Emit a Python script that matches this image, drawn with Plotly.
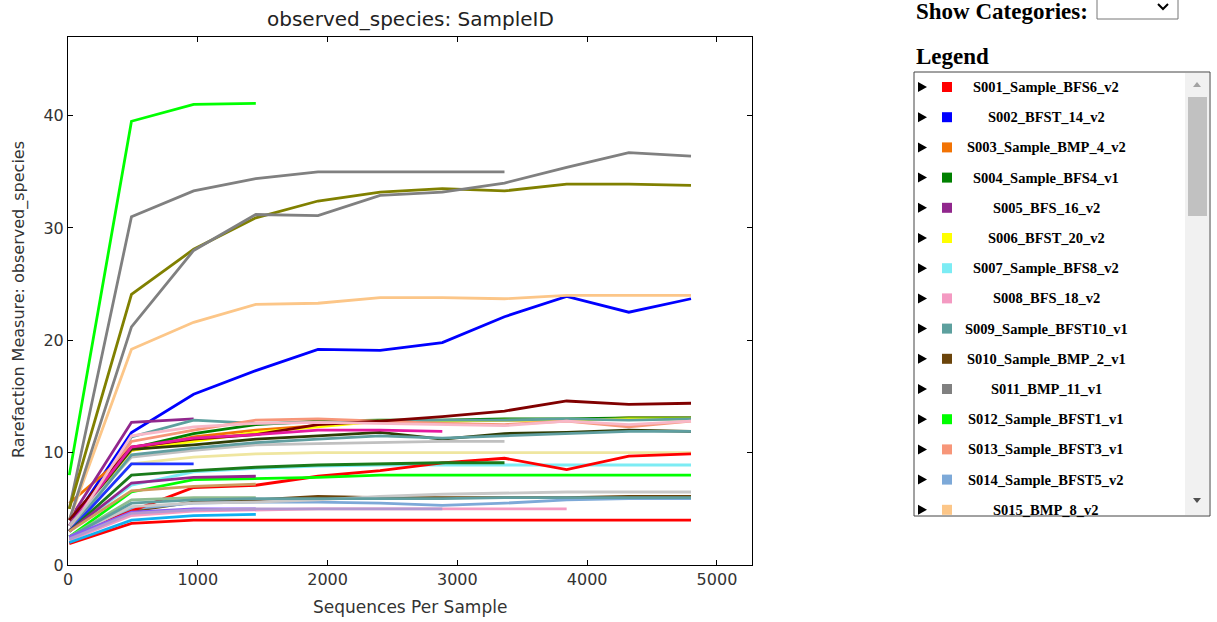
import plotly.graph_objects as go

# ---------------- data ----------------
depths = [10, 489, 968, 1447, 1926, 2405, 2884, 3363, 3842, 4321, 4800]

sample_ids = [
    "S001_Sample_BFS6_v2", "S002_BFST_14_v2", "S003_Sample_BMP_4_v2",
    "S004_Sample_BFS4_v1", "S005_BFS_16_v2", "S006_BFST_20_v2",
    "S007_Sample_BFS8_v2", "S008_BFS_18_v2", "S009_Sample_BFST10_v1",
    "S010_Sample_BMP_2_v1", "S011_BMP_11_v1", "S012_Sample_BFST1_v1",
    "S013_Sample_BFST3_v1", "S014_Sample_BFST5_v2", "S015_BMP_8_v2",
    "S016", "S017", "S018", "S019", "S020", "S021", "S022", "S023", "S024",
    "S025", "S026", "S027", "S028", "S029", "S030", "S031", "S032", "S033",
    "S034", "S035", "S036",
]

sample_colors = [
    "#ff0000", "#0000ff", "#f27304", "#008000", "#91278d", "#ffff00",
    "#7cecf4", "#f49ac2", "#5da09e", "#6b440b", "#808080", "#00ff00",
    "#f79679", "#7da9d8", "#fcc688",
    "#808000", "#808080", "#800000", "#2f3d05", "#e619a0", "#f8b8c8",
    "#c0c0c0", "#5f9ea0", "#efe6a0", "#1e32ff", "#ff0000", "#1a7a1a",
    "#00ff00", "#91278d", "#d09a60", "#8fbc8f", "#c8c8c8", "#5f9ea0",
    "#8a5cf5", "#b399d0", "#10b0f0",
]

s001 = [1.9, 3.7, 4.0, 4.0, 4.0, 4.0, 4.0, 4.0, 4.0, 4.0, 4.0]
s002 = [3.5, 11.8, 15.2, 17.3, 19.2, 19.1, 19.8, 22.1, 23.9, 22.5, 23.7]
s003 = [5.5, 10.2, 11.4, 12.0, 12.4, 12.8, 12.8, 12.9, 12.9, 13.1, 13.1]
s004 = [3.0, 10.4, 11.7, 12.5, 12.8, 12.9, 12.9, 13.0, 13.0, 13.1, 13.1]
s005 = [4.0, 12.7, 13.0]
s006 = [3.5, 10.2, 11.0, 11.8, 12.3, 12.8, 12.8, 12.9, 12.9, 13.0, 13.0]
s007 = [3.0, 7.1, 8.3, 8.6, 8.8, 8.9, 8.9, 8.9, 8.9, 8.9, 8.9]
s008 = [2.2, 4.4, 4.8, 4.9, 5.0, 5.0, 5.0, 5.0, 5.0]
s009 = [3.0, 11.4, 12.9, 12.6, 12.7, 12.8, 12.9, 12.9, 13.0, 12.9, 13.0]
s010 = [2.5, 4.8, 5.6, 5.8, 6.1, 6.0, 6.0, 6.0, 6.0, 6.1, 6.1]
s011 = [5.0, 31.0, 33.3, 34.4, 35.0, 35.0, 35.0, 35.0]
s012 = [8.0, 39.5, 41.0, 41.1]
s013 = [3.0, 11.0, 12.0, 12.9, 13.0, 12.8, 12.6, 12.5, 12.8, 12.3, 12.8]
s014 = [2.5, 5.0, 5.5, 5.6, 5.6, 5.5, 5.3, 5.5, 5.8, 5.9, 5.9]
s015 = [4.0, 19.2, 21.6, 23.2, 23.3, 23.8, 23.8, 23.7, 24.0, 24.0, 24.0]
s016 = [5.0, 24.1, 28.1, 30.9, 32.4, 33.2, 33.5, 33.3, 33.9, 33.9, 33.8]
s017 = [4.0, 21.2, 28.0, 31.2, 31.1, 32.9, 33.2, 34.0, 35.4, 36.7, 36.4]
s018 = [4.0, 10.5, 11.2, 11.6, 12.5, 12.8, 13.2, 13.7, 14.6, 14.3, 14.4]
s019 = [3.5, 10.3, 10.7, 11.2, 11.5, 11.8, 11.2, 11.7, 11.8, 12.0, 11.9]
s020 = [3.5, 10.5, 11.3, 11.6, 12.0, 12.0, 11.9]
s021 = [3.0, 11.5, 12.3, 12.6, 12.7, 12.6, 12.5, 12.4, 12.8, 12.5, 12.8]
s022 = [3.5, 9.6, 10.2, 10.7, 10.8, 10.9, 11.0, 11.0]
s023 = [3.0, 9.8, 10.4, 10.9, 11.2, 11.5, 11.3, 11.5, 11.7, 11.9, 11.9]
s024 = [3.0, 9.0, 9.6, 9.9, 10.0, 10.0, 10.0, 10.0, 10.0, 10.0, 10.0]
s025 = [3.0, 9.0, 9.0]
s026 = [2.5, 4.8, 6.9, 7.1, 7.9, 8.4, 9.1, 9.5, 8.5, 9.7, 9.9]
s027 = [3.0, 8.0, 8.4, 8.7, 8.9, 9.0, 9.1, 9.1]
s028 = [2.5, 6.5, 7.6, 7.7, 7.8, 8.0, 8.0, 8.0, 8.0, 8.0, 8.0]
s029 = [3.0, 7.3, 7.8, 7.9]
s030 = [3.0, 6.6, 7.0, 7.2]
s031 = [2.5, 5.8, 6.0, 6.0]
s032 = [2.5, 5.2, 5.5, 5.6, 5.8, 6.1, 6.3, 6.4, 6.5, 6.5, 6.5]
s033 = [2.5, 5.5, 5.8, 5.9, 5.9, 5.9, 5.9, 6.0, 6.0, 6.0, 6.0]
s034 = [2.5, 4.7, 5.0, 5.0]
s035 = [2.3, 4.6, 4.9, 5.0, 5.0, 5.0, 5.0]
s036 = [2.0, 4.0, 4.4, 4.5]

series_values = [
    s001, s002, s003, s004, s005, s006, s007, s008, s009, s010, s011, s012,
    s013, s014, s015, s016, s017, s018, s019, s020, s021, s022, s023, s024,
    s025, s026, s027, s028, s029, s030, s031, s032, s033, s034, s035, s036,
]

x_ticks = [0, 1000, 2000, 3000, 4000, 5000]
y_ticks = [0, 10, 20, 30, 40]
legend_count = 15

# ---------------- layout geometry ----------------
W, H = 1217, 622
L, R, T, B = 68, 465, 37, 57
PW, PH = W - L - R, H - T - B


def px(x):
    return (x - L) / PW


def py(y):
    return (H - B - y) / PH


fig = go.Figure()
for name, col, vals in zip(sample_ids, sample_colors, series_values):
    fig.add_trace(go.Scatter(
        x=depths[:len(vals)], y=vals, mode="lines", name=name,
        line=dict(color=col, width=2.8), showlegend=False,
    ))

axis_font = dict(family="DejaVu Sans", size=16, color="#333333")
fig.update_layout(
    width=W, height=H,
    margin=dict(l=L, r=R, t=T, b=B),
    paper_bgcolor="white", plot_bgcolor="white",
    xaxis=dict(range=[0, 5270], tickvals=x_ticks, ticks="inside", ticklen=5,
               tickcolor="black", showline=True, linecolor="black",
               linewidth=1, mirror="allticks", showgrid=False,
               zeroline=False, tickfont=axis_font),
    yaxis=dict(range=[0, 47], tickvals=y_ticks, ticks="inside", ticklen=5,
               tickcolor="black", showline=True, linecolor="black",
               linewidth=1, mirror="allticks", showgrid=False,
               zeroline=False, tickfont=axis_font),
)

annotations = []
shapes = []


def label(text, x, y, size, family="DejaVu Sans", color="#333",
          xanchor="center", angle=0):
    annotations.append(dict(text=text, x=px(x), y=py(y), xref="paper",
                            yref="paper", xanchor=xanchor, yanchor="middle",
                            showarrow=False, textangle=angle,
                            font=dict(family=family, size=size, color=color)))


# title and axis titles
label("observed_species: SampleID", 410, 19, 20, color="#222")
label("Sequences Per Sample", 410, 607, 17)
label("Rarefaction Measure: observed_species", 19, 300, 16, angle=-90)

serif = "Liberation Serif, Times New Roman, serif"
# Show Categories + select box
label("<b>Show Categories:</b>", 914, 12, 23, family=serif, color="black",
      xanchor="left")
shapes.append(dict(type="rect", xref="paper", yref="paper",
                   x0=px(1097), x1=px(1178), y0=py(-3), y1=py(19),
                   line=dict(color="#767676", width=1), fillcolor="white"))
shapes.append(dict(type="path", xref="paper", yref="paper",
                   path=f"M {px(1158)},{py(4)} L {px(1163)},{py(9)} L {px(1168)},{py(4)}",
                   line=dict(color="black", width=2)))

# Legend heading
label("<b>Legend</b>", 914, 57, 23, family=serif, color="black",
      xanchor="left")

# Legend box
shapes.append(dict(type="rect", xref="paper", yref="paper",
                   x0=px(914), x1=px(1210), y0=py(72), y1=py(516),
                   line=dict(color="#444", width=1), fillcolor="white"))
# scrollbar
shapes.append(dict(type="rect", xref="paper", yref="paper",
                   x0=px(1185), x1=px(1209), y0=py(73), y1=py(515),
                   line=dict(width=0), fillcolor="#f1f1f1"))
shapes.append(dict(type="rect", xref="paper", yref="paper",
                   x0=px(1188), x1=px(1207), y0=py(97), y1=py(216),
                   line=dict(width=0), fillcolor="#c1c1c1"))
shapes.append(dict(type="path", xref="paper", yref="paper",
                   path=f"M {px(1193)},{py(87)} L {px(1201)},{py(87)} L {px(1197)},{py(82)} Z",
                   line=dict(width=0), fillcolor="#a3a3a3"))
shapes.append(dict(type="path", xref="paper", yref="paper",
                   path=f"M {px(1193)},{py(498)} L {px(1201)},{py(498)} L {px(1197)},{py(503)} Z",
                   line=dict(width=0), fillcolor="#505050"))

row0, row_step = 87, 30.2
for i in range(legend_count):
    cy = row0 + i * row_step
    shapes.append(dict(type="path", xref="paper", yref="paper",
                       path=f"M {px(918)},{py(cy - 5)} L {px(927)},{py(cy)} L {px(918)},{py(cy + 5)} Z",
                       line=dict(width=0), fillcolor="black"))
    shapes.append(dict(type="rect", xref="paper", yref="paper",
                       x0=px(942), x1=px(952), y0=py(cy - 5),
                       y1=py(min(cy + 5, 515)),
                       line=dict(width=0), fillcolor=sample_colors[i]))
    label(f"<b>{sample_ids[i]}</b>", 1046, cy, 14.5, family=serif,
          color="black")

fig.update_layout(annotations=annotations, shapes=shapes)
fig.write_html("out.html")
